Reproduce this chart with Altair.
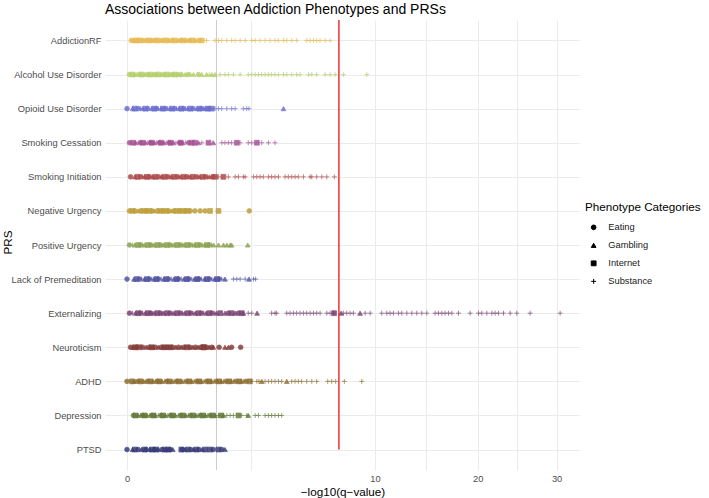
import altair as alt
import pandas as pd

# PRS rows, top to bottom, and their colours
prs_order = [
    "AddictionRF", "Alcohol Use Disorder", "Opioid Use Disorder",
    "Smoking Cessation", "Smoking Initiation", "Negative Urgency",
    "Positive Urgency", "Lack of Premeditation", "Externalizing",
    "Neuroticism", "ADHD", "Depression", "PTSD",
]
prs_colors = [
    "#e7ba52", "#b5cf6b", "#6b6ecf", "#a55194", "#ad494a", "#bd9e39",
    "#8ca252", "#5254a3", "#7b4173", "#843c39", "#8c6d31", "#637939", "#393b79",
]

categories = ["Eating", "Gambling", "Internet", "Substance"]
category_shapes = ["circle", "triangle-up", "square", "M-1,0L1,0M0,-1L0,1"]
category_sizes = [22, 24, 19, 44]

# -log10(q) values per PRS and phenotype category
addiction_rf = {
    "Eating": [0.003, 0.02, 0.06, 0.12, 0.21, 0.33, 0.47, 0.64, 0.84],
    "Gambling": [0.008, 0.045, 0.1, 0.18, 0.29, 0.42, 0.58, 0.77],
    "Internet": [0.012, 0.03, 0.08, 0.15, 0.25, 0.37, 0.52, 0.7, 0.91],
    "Substance": [0.005, 0.04, 0.09, 0.14, 0.2, 0.27, 0.35, 0.45, 0.55, 0.62, 0.74, 0.88,
                  1.03, 1.26, 1.36, 1.46, 1.62, 1.78, 1.90, 2.08, 2.27, 2.53, 2.67, 2.88,
                  3.10, 3.33, 3.56, 3.73, 3.98, 4.15, 4.41, 4.68, 5.25, 5.45, 5.65, 5.85,
                  6.06, 6.38, 6.70],
}
alcohol_use_disorder = {
    "Eating": [0.001, 0.025, 0.07, 0.13, 0.22, 0.34, 0.47, 0.61, 0.83],
    "Gambling": [0.01, 0.05, 0.11, 0.19, 0.3, 0.43, 0.55, 0.72, 0.91, 1.03, 1.17, 1.26],
    "Internet": [0.005, 0.035, 0.09, 0.16, 0.26, 0.38],
    "Substance": [0.015, 0.06, 0.14, 0.24, 0.32, 0.4, 0.49, 0.66, 1.1, 1.41, 1.56, 1.67,
                  1.84, 2.08, 2.39, 2.53, 2.67, 2.81, 2.95, 3.10, 3.25, 3.40, 3.56, 3.73,
                  3.98, 4.15, 4.41, 4.68, 4.87, 5.35, 5.55, 5.85, 6.38, 6.70, 7.04, 7.61, 9.35],
}
opioid_use_disorder = {
    "Eating": [0.0, 0.02, 0.07, 0.14, 0.24, 0.37, 0.52, 0.7, 0.9, 1.1],
    "Gambling": [0.005, 0.04, 0.1, 0.19, 0.3, 0.44, 0.6, 0.8, 1.0, 3.98],
    "Internet": [0.01, 0.055, 0.12, 0.21, 0.33, 0.48, 0.65, 0.85, 1.05, 1.17],
    "Substance": [0.03, 0.16, 0.27, 0.4, 0.56, 0.75, 0.95, 1.26, 1.36, 1.46, 1.62, 1.78,
                  1.90, 2.20, 2.33, 2.42],
}
smoking_cessation = {
    "Eating": [0.001, 0.03, 0.09, 0.17, 0.29, 0.45, 0.62],
    "Gambling": [0.012, 0.055, 0.12, 0.22, 0.35, 0.5, 0.83, 1.21],
    "Internet": [0.006, 0.04, 0.1, 0.19, 0.31, 0.47, 0.68, 0.75, 1.08, 1.96, 2.74],
    "Substance": [0.02, 0.07, 0.14, 0.25, 0.39, 0.56, 0.91, 1.46, 1.56, 1.67, 1.78, 2.08,
                  2.39, 2.53, 2.95, 3.25, 3.56],
}
smoking_initiation = {
    "Eating": [0.002, 0.03, 0.08, 0.16, 0.27, 0.41, 0.58, 0.78, 1.0, 1.2],
    "Gambling": [0.01, 0.05, 0.11, 0.2, 0.32, 0.47, 0.65, 0.86, 1.1],
    "Internet": [0.018, 0.065, 0.13, 0.23, 0.36, 0.52, 0.7, 0.93, 1.26, 1.51],
    "Substance": [0.04, 0.1, 0.19, 0.3, 0.44, 0.61, 0.82, 1.05, 1.16, 1.36, 1.67, 1.90,
                  2.02, 2.20, 2.27, 2.60, 2.74, 2.88, 3.02, 3.25, 3.40, 3.56, 3.73, 4.06,
                  4.23, 4.41, 4.59, 4.77, 5.06, 5.45, 5.55, 5.85, 6.17, 6.49, 6.99],
}
negative_urgency = {
    "Eating": [0.001, 0.01, 0.03, 0.06, 0.1, 0.15, 0.21, 0.28, 0.36, 0.45, 0.55, 0.65,
               0.75, 0.87, 0.99, 2.43],
    "Gambling": [0.02, 0.12, 0.32],
    "Internet": [0.005, 0.045, 0.08, 0.18, 0.25, 0.4, 0.5, 0.6, 1.12, 1.36],
    "Substance": [],
}
positive_urgency = {
    "Eating": [0.001, 0.03, 0.09, 0.18, 0.3, 0.46, 0.65, 0.87, 1.1],
    "Gambling": [0.01, 0.05, 0.12, 0.22, 0.36, 0.53, 0.74, 0.98, 1.22, 1.36, 1.51, 1.62,
                 1.73, 1.78, 2.37],
    "Internet": [0.02, 0.07, 0.15, 0.26, 0.41, 0.59, 0.8, 1.04],
    "Substance": [0.005, 0.04, 0.1, 0.2, 0.33, 0.5, 0.7, 0.92, 1.16],
}
lack_of_premeditation = {
    "Eating": [0.0, 0.025, 0.08, 0.16, 0.28, 0.43, 0.62, 0.84, 1.1, 1.38],
    "Gambling": [0.008, 0.05, 0.12, 0.22, 0.36, 0.53, 0.74, 0.98, 1.25, 1.56, 2.42],
    "Internet": [0.015, 0.065, 0.14, 0.25, 0.4, 0.58, 0.8, 1.04, 1.32],
    "Substance": [0.035, 0.1, 0.19, 0.32, 0.48, 0.68, 0.9, 1.17, 1.46, 1.84, 1.96, 2.08,
                  2.27, 2.60, 2.69],
}
externalizing = {
    "Eating": [0.001, 0.03, 0.09, 0.18, 0.3, 0.46, 0.66, 0.9, 1.17, 1.67, 2.02],
    "Gambling": [0.012, 0.055, 0.12, 0.22, 0.36, 0.54, 0.76, 1.02, 1.3, 1.56, 1.90, 2.20,
                 2.75, 7.45, 8.83],
    "Internet": [0.02, 0.07, 0.15, 0.26, 0.41, 0.6, 0.83, 1.1, 1.41, 1.78, 2.14, 6.97],
    "Substance": [0.005, 0.04, 0.1, 0.2, 0.33, 0.5, 0.71, 0.96, 1.24, 2.39, 2.53, 3.40,
                  3.56, 3.64, 4.15, 4.32, 4.50, 4.68, 4.87, 5.06, 5.25, 5.45, 5.65, 5.85,
                  6.06, 6.49, 6.70, 6.93, 7.61, 7.85, 8.09, 8.33, 9.22, 9.61, 10.55, 10.97,
                  11.25, 11.54, 11.97, 12.28, 12.73, 13.19, 13.65, 14.13, 14.61, 15.43,
                  15.77, 16.11, 16.45, 16.80, 17.15, 17.86, 19.14, 20.08, 20.47, 21.05,
                  21.64, 22.03, 22.43, 23.04, 23.87, 24.70, 26.42, 30.50],
}
neuroticism = {
    "Eating": [0.002, 0.015, 0.04, 0.08, 0.13, 0.19, 0.26, 0.34, 0.43, 0.53, 0.64, 0.76,
               0.89, 1.03, 1.17, 1.38, 1.78, 2.10],
    "Gambling": [0.006, 0.06, 0.105, 0.16, 0.22, 0.3, 0.385, 0.48, 0.7, 0.82, 1.1, 1.21,
                 1.56, 1.67],
    "Internet": [0.01, 0.025, 0.1, 0.225, 0.3, 0.585, 0.95, 0.96],
    "Substance": [],
}
adhd = {
    "Eating": [0.0, 0.02, 0.07, 0.15, 0.26, 0.4, 0.58, 0.79, 1.03, 1.3, 1.6, 1.93, 2.3],
    "Gambling": [0.008, 0.045, 0.11, 0.2, 0.33, 0.49, 0.68, 0.9, 1.16, 1.45, 1.77, 2.12,
                 2.95, 4.15],
    "Internet": [0.004, 0.03, 0.09, 0.17, 0.29, 0.44, 0.63, 0.85, 1.1, 1.38, 1.7, 2.05, 2.45],
    "Substance": [0.012, 0.06, 0.13, 0.23, 0.36, 0.53, 0.73, 0.96, 1.23, 1.52, 1.85, 2.2,
                  2.53, 2.74, 2.83, 3.10, 3.25, 3.40, 3.56, 3.73, 3.89, 4.41, 4.59, 4.77,
                  4.96, 5.25, 5.55, 5.85, 6.55, 6.81, 7.08, 7.68, 8.96],
}
depression = {
    "Eating": [0.007, 0.04, 0.1, 0.19, 0.31, 0.47, 0.66, 0.88, 1.13],
    "Gambling": [0.02, 0.065, 0.13, 0.24, 0.38, 0.56, 0.77, 1.0, 1.26, 1.51, 2.39],
    "Internet": [0.012, 0.05, 0.115, 0.21, 0.34, 0.51, 0.71, 0.94, 1.2, 1.44, 2.02],
    "Substance": [0.03, 0.085, 0.16, 0.27, 0.43, 0.61, 0.82, 1.06, 1.36, 1.62, 1.73, 1.84,
                  2.14, 2.33, 2.67, 2.81, 3.10, 3.25, 3.40, 3.56, 3.73, 3.89],
}
ptsd = {
    "Eating": [0.0, 0.02, 0.06, 0.12, 0.2, 0.3, 0.5, 0.66, 0.84, 1.21, 1.46],
    "Gambling": [0.005, 0.035, 0.085, 0.16, 0.25, 0.34, 0.55, 0.72, 0.92, 1.56],
    "Internet": [0.01, 0.05, 0.1, 0.14, 0.23, 0.28, 0.48, 0.6, 0.78, 0.99, 1.12, 1.36],
    "Substance": [],
}

rows = {
    "AddictionRF": addiction_rf,
    "Alcohol Use Disorder": alcohol_use_disorder,
    "Opioid Use Disorder": opioid_use_disorder,
    "Smoking Cessation": smoking_cessation,
    "Smoking Initiation": smoking_initiation,
    "Negative Urgency": negative_urgency,
    "Positive Urgency": positive_urgency,
    "Lack of Premeditation": lack_of_premeditation,
    "Externalizing": externalizing,
    "Neuroticism": neuroticism,
    "ADHD": adhd,
    "Depression": depression,
    "PTSD": ptsd,
}

# significance thresholds on the -log10 scale
fdr_line = 1.301      # q = 0.05
genome_line = 7.3     # 5e-8

major_ticks = [0, 10, 20, 30]
minor_ticks = [2.5, 14.57, 24.75]

records = [
    {"PRS": prs, "Category": cat, "q": v}
    for prs, groups in rows.items()
    for cat, values in groups.items()
    for v in values
]
points_df = pd.DataFrame(records)
fdr_df = pd.DataFrame({"q": [fdr_line]})
genome_df = pd.DataFrame({"PRS": ["PTSD"], "q": [genome_line]})

x_scale = alt.Scale(type="sqrt", domain=[-0.0787, 33.36], nice=False, zero=False)
y_scale = alt.Scale(type="point", domain=prs_order, padding=0.6)

tick_values = sorted(major_ticks + minor_ticks)
major_expr = " || ".join(f"datum.value == {t}" for t in major_ticks)

x_axis = alt.Axis(
    values=tick_values,
    labelExpr=f"({major_expr}) ? datum.label : ''",
    title="\u2212log10(q\u2212value)",
    grid=True, gridColor="#EBEBEB", gridWidth=1,
    ticks=False, domain=False,
    labelFontSize=9.3, labelColor="#4D4D4D", labelPadding=4,
    titleFontSize=11.7, titleFontWeight="normal", titleColor="#000000",
    titlePadding=3,
)
y_axis = alt.Axis(
    title="PRS",
    grid=True, gridColor="#EBEBEB", gridWidth=1,
    ticks=False, domain=False,
    labelFontSize=9.3, labelColor="#4D4D4D", labelPadding=4,
    titleFontSize=11.7, titleFontWeight="normal", titleColor="#000000",
    titleX=-98, titleY=222, titleAngle=-90, titleAlign="center", titleBaseline="middle",
)

category_legend = alt.Legend(
    title="Phenotype Categories",
    orient="none", legendX=480, legendY=182,
    titleFontSize=11.7, titleFontWeight="normal", titleColor="#000000",
    titlePadding=9,
    labelFontSize=9.3, labelColor="#1A1A1A", labelOffset=10,
    symbolFillColor="#000000", symbolStrokeColor="#000000",
    symbolStrokeWidth=1, symbolOpacity=1, symbolOffset=4,
    rowPadding=8, padding=0, offset=0,
)

fdr_rule = alt.Chart(fdr_df).mark_rule(color="#C4C4C4", strokeWidth=0.9).encode(
    x=alt.X("q:Q", scale=x_scale, axis=x_axis)
)

points = alt.Chart(points_df).mark_point(
    filled=True, strokeWidth=0.8, opacity=0.85
).encode(
    x=alt.X("q:Q", scale=x_scale, axis=x_axis),
    y=alt.Y("PRS:N", scale=y_scale, axis=y_axis),
    color=alt.Color("PRS:N", scale=alt.Scale(domain=prs_order, range=prs_colors), legend=None),
    stroke=alt.Stroke("PRS:N", scale=alt.Scale(domain=prs_order, range=prs_colors), legend=None),
    size=alt.Size("Category:N", scale=alt.Scale(domain=categories, range=category_sizes),
                  legend=category_legend),
    shape=alt.Shape("Category:N", scale=alt.Scale(domain=categories, range=category_shapes),
                    legend=category_legend),
)

genome_rule = alt.Chart(genome_df).mark_rule(color="#EE2222", strokeWidth=1.4).encode(
    x=alt.X("q:Q", scale=x_scale, axis=x_axis),
    y=alt.Y("PRS:N", scale=y_scale, axis=y_axis),
    y2=alt.value(0),
)

chart = alt.layer(fdr_rule, points, genome_rule).properties(
    width=475,
    height=450,
    padding={"left": 105, "top": 20, "right": 129, "bottom": 28},
    autosize=alt.AutoSizeParams(type="none"),
    title=alt.TitleParams(
        "Associations between Addiction Phenotypes and PRSs",
        anchor="start", frame="group", fontSize=14, fontWeight="normal",
        color="#000000", offset=2,
    ),
).configure(
    font="Liberation Sans",
).configure_view(stroke=None)

chart.save("out.html", embed_options={"renderer": "svg", "actions": False})
